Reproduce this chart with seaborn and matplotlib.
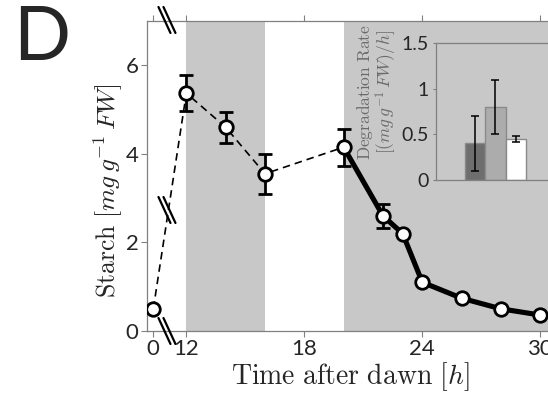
import numpy as np
import pandas as pd
import matplotlib
matplotlib.use('Agg')
import matplotlib.pyplot as plt
import seaborn as sns

# ---------------- data ----------------
time_h = [0, 12, 14, 16, 20, 22, 23, 24, 26, 28, 30]
starch = [0.50, 5.37, 4.60, 3.55, 4.15, 2.60, 2.20, 1.10, 0.74, 0.50, 0.36]
starch_err = [0.0, 0.40, 0.35, 0.45, 0.42, 0.27, 0.0, 0.0, 0.0, 0.0, 0.0]

dashed_time = time_h[:5]
dashed_starch = starch[:5]
fit_time = time_h[4:]
fit_starch = starch[4:]

night_spans = [(12, 16), (20, 40)]
x_ticks = [0, 12, 18, 24, 30]
y_ticks = [0, 2, 4, 6]

rate_labels = ['a', 'b', 'c']
rate_values = [0.40, 0.80, 0.45]
rate_err = [0.30, 0.30, 0.03]
rate_colors = ['#6e6e6e', '#acacac', '#ffffff']
inset_yticks = [0, 0.5, 1, 1.5]
inset_yticklabels = ['0', '0.5', '1', '1.5']

# ---------------- style ----------------
sns.set_style('ticks')
plt.rcParams['font.family'] = ['Lato', 'DejaVu Sans']
plt.rcParams['mathtext.fontset'] = 'cm'
SPINE = '#808080'
SHADE = '#c8c8c8'

fig = plt.figure(figsize=(5.48, 3.93), dpi=100)
ax = fig.add_axes([0.2682, 0.1578, 0.7536, 0.7888])

# broken axis scale: 0..12 compressed
def fwd(t):
    t = np.asarray(t, dtype=float)
    return np.where(t < 12, 10.32 + t * 0.14, t)

def inv(p):
    p = np.asarray(p, dtype=float)
    return np.where(p < 12, (p - 10.32) / 0.14, p)

for a, b in night_spans:
    ax.axvspan(a, b, color=SHADE, lw=0, zorder=0)

sns.lineplot(x=dashed_time, y=dashed_starch, ax=ax, color='black', lw=1.2,
             linestyle=(0, (4.5, 3)), zorder=3, sort=False)
sns.lineplot(x=fit_time, y=fit_starch, ax=ax, color='black', lw=3.7,
             zorder=3, sort=False)
et = [t for t, e in zip(time_h, starch_err) if e > 0]
ev = [v for v, e in zip(starch, starch_err) if e > 0]
ee = [e for e in starch_err if e > 0]
ax.errorbar(et, ev, yerr=ee, fmt='none', ecolor='black', elinewidth=2.0,
            capsize=5, capthick=2.0, zorder=4)
sns.scatterplot(x=time_h, y=starch, ax=ax, s=95, color='white',
                edgecolor='black', linewidth=2.0, zorder=5)

ax.set_xscale('function', functions=(fwd, inv))
ax.set_xlim(-2.3, 31)
ax.set_ylim(0, 7)
ax.set_xticks(x_ticks)
ax.set_xticklabels([str(t) for t in x_ticks])
ax.set_yticks(y_ticks)
ax.set_yticklabels([str(v) for v in y_ticks])
ax.tick_params(axis='both', direction='out', length=4, width=0.8,
               color=SPINE, labelsize=16, pad=2)
ax.tick_params(axis='x', top=True)
for s in ['left', 'top', 'bottom']:
    ax.spines[s].set_color(SPINE)
    ax.spines[s].set_linewidth(0.9)
ax.spines['right'].set_visible(False)

ax.set_xlabel(r'$\mathrm{Time\ after\ dawn}\ [h]$', fontsize=20)
ax.set_ylabel(r'$\mathrm{Starch}\ [mg\,g^{-1}\,FW]$', fontsize=18.5)
ax.xaxis.set_label_coords((350 - 147) / 413, (331 - 377) / 310)
ax.yaxis.set_label_coords((108 - 147) / 413, (331 - 191) / 310)
ax.xaxis.label.set_va('center')
ax.yaxis.label.set_va('center')

# break markers (axis decorations)
W, H = 413.0, 310.0
def brk(cx, cy):
    for off in (0, 5):
        xs = [cx - 9.5 + off, cx + 2.5 + off]
        ys = [cy - 13, cy + 13]
        ax.plot([(x - 147) / W for x in xs], [(331 - y) / H for y in ys],
                transform=ax.transAxes, color='black', lw=1.6,
                clip_on=False, zorder=6)
brk(168, 20)
brk(168, 331)
brk(168, 210)

fig.text(13 / 548, 1 - 4 / 393, 'D', fontsize=54, va='top', ha='left')

# ---------------- inset ----------------
ins = fig.add_axes([0.7956, 0.542, 0.219, 0.3486])
ins.patch.set_alpha(0)
sns.barplot(x=rate_labels, y=rate_values, hue=rate_labels, palette=rate_colors,
            legend=False, width=1.0, edgecolor='#8a8a8a', linewidth=1.0,
            ax=ins, zorder=2)
ins.errorbar(range(len(rate_values)), rate_values, yerr=rate_err, fmt='none',
             ecolor='black', elinewidth=1.1, capsize=3, capthick=1.1, zorder=3)
ins.set_xlim(-1.95, 4)
ins.set_ylim(0, 1.5)
ins.set_xticks([])
ins.set_yticks(inset_yticks)
ins.set_yticklabels(inset_yticklabels)
ins.tick_params(axis='y', direction='out', length=2, color=SPINE,
                labelsize=14, pad=3)
for s in ['left', 'top', 'bottom']:
    ins.spines[s].set_color(SPINE)
    ins.spines[s].set_linewidth(0.9)
ins.spines['right'].set_visible(False)
ins.set_xlabel('')
ins.set_ylabel('$\\mathrm{Degradation\\ Rate}$\n$[(mg\\,g^{-1}\\,FW)/h]$',
               fontsize=12.5, color='#6a6a6a', linespacing=0.95)
ins.yaxis.set_label_coords((377 - 436) / 120.0, (180 - 92) / 137.0)
ins.yaxis.label.set_va('center')

fig.savefig('out.png', dpi=100)
